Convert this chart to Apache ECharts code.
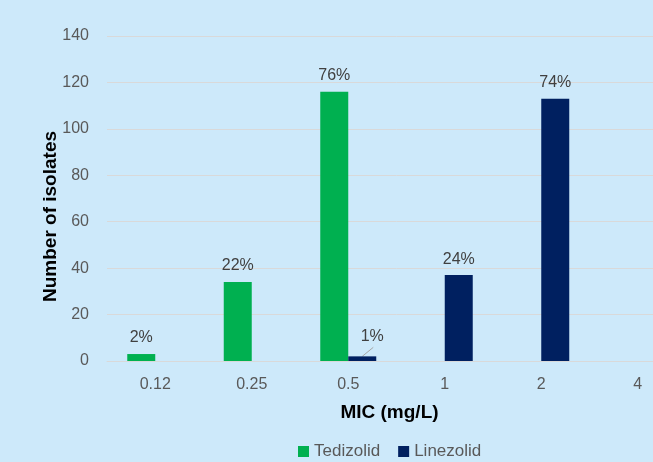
<!DOCTYPE html>
<html>
<head>
<meta charset="utf-8">
<script src="https://cdn.jsdelivr.net/npm/echarts@6/dist/echarts.min.js"></script>
<style>
  html, body { margin: 0; padding: 0; background: #cde9fa; overflow: hidden; }
  /* the plot runs past the right edge of the view, so the canvas is wider than the window */
  #chart { width: 686px; height: 462px; }
</style>
</head>
<body>
<div id="chart"></div>
<script>
// MIC distribution of isolates for two oxazolidinones
const micLevels = ['0.12', '0.25', '0.5', '1', '2', '4'];
const tedizolidCounts = [3, 34, 116, null, null, null];
const linezolidCounts = [null, null, 2, 37, 113, null];
const tedizolidPct = ['2%', '22%', '76%', '', '', ''];
const linezolidPct = ['', '', '1%', '24%', '74%', ''];
const yTicks = { min: 0, max: 140, step: 20 };

const FONT = '"Liberation Sans", Arial, sans-serif';

// the small 1% label sits off to the side, joined to its bar by a leader line
const leaderIndex = 2;

function withLabels(counts, labels) {
  return counts.map((v, i) => ({ value: v, labelText: labels[i] }));
}

const chart = echarts.init(document.getElementById('chart'));
chart.setOption({
  backgroundColor: '#cde9fa',
  animation: false,
  textStyle: { fontFamily: FONT },
  grid: { left: 107, right: 0, top: 36, bottom: 101 },
  legend: {
    left: 298,
    top: 443,
    padding: 0,
    itemWidth: 11,
    itemHeight: 11,
    itemGap: 18,
    icon: 'rect',
    textStyle: { fontFamily: FONT, fontSize: 17, color: '#595959' },
    data: ['Tedizolid', 'Linezolid']
  },
  xAxis: {
    type: 'category',
    data: micLevels,
    name: 'MIC (mg/L)',
    nameLocation: 'middle',
    nameGap: 42,
    nameMoveOverlap: false,
    nameTextStyle: { fontFamily: FONT, fontSize: 19, fontWeight: 'bold', color: '#000', padding: [0, 14, 0, 0] },
    axisLine: { lineStyle: { color: '#d9d9d9', width: 1 } },
    axisTick: { show: false },
    axisLabel: { fontFamily: FONT, fontSize: 16, color: '#595959', margin: 16 }
  },
  yAxis: {
    type: 'value',
    min: yTicks.min,
    max: yTicks.max,
    interval: yTicks.step,
    name: 'Number of isolates',
    nameLocation: 'middle',
    nameGap: 47,
    nameMoveOverlap: false,
    nameTextStyle: { fontFamily: FONT, fontSize: 19, fontWeight: 'bold', color: '#000', padding: [0, 36, 0, 0] },
    axisLine: { show: false },
    axisTick: { show: false },
    axisLabel: { fontFamily: FONT, fontSize: 16, color: '#595959', margin: 18 },
    splitLine: { lineStyle: { color: '#d9d9d9', width: 1 } }
  },
  series: [
    {
      name: 'Tedizolid',
      type: 'bar',
      barWidth: 28,
      barGap: '0%',
      itemStyle: { color: '#00b050' },
      data: withLabels(tedizolidCounts, tedizolidPct),
      label: {
        show: true,
        position: 'top',
        distance: 8,
        fontFamily: FONT,
        fontSize: 16,
        color: '#404040',
        formatter: p => p.data.labelText
      }
    },
    {
      name: 'Linezolid',
      type: 'bar',
      barWidth: 28,
      barGap: '0%',
      itemStyle: { color: '#002060' },
      data: withLabels(linezolidCounts, linezolidPct),
      label: {
        show: true,
        position: 'top',
        distance: 8,
        fontFamily: FONT,
        fontSize: 16,
        color: '#404040',
        formatter: p => p.data.labelText
      },
      labelLayout: p => (p.dataIndex === leaderIndex ? { dx: 10, dy: -4 } : {})
    }
  ]
});

// leader line from the top of the small bar up to its shifted label
const barLayout = chart.getModel().getSeriesByIndex(1).getData().getItemLayout(leaderIndex);
const barTop = barLayout.y + Math.min(barLayout.height, 0);
const barMid = barLayout.x + barLayout.width / 2;
chart.setOption({
  graphic: [{
    type: 'line',
    shape: { x1: barMid, y1: barTop, x2: barMid + 11, y2: barTop - 9 },
    style: { stroke: '#a6a6a6', lineWidth: 1 },
    silent: true
  }]
});
</script>
</body>
</html>
